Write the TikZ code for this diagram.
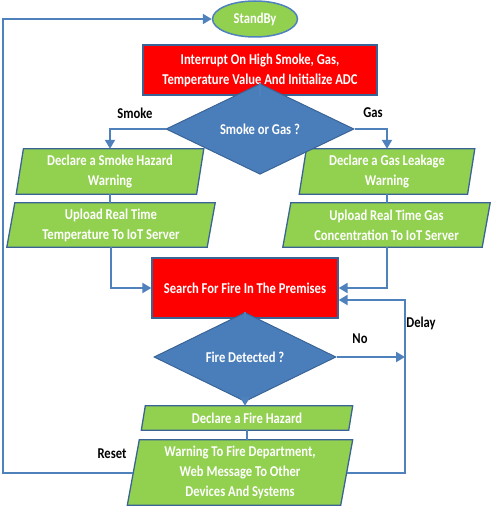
\documentclass[tikz,border=0pt]{standalone}
\usepackage{fontspec}
\setmainfont{Carlito}
\newfontfamily\bxf[FakeStretch=0.84]{Carlito}
\usetikzlibrary{shapes.geometric,arrows.meta,calc,backgrounds}
\definecolor{grn}{HTML}{92D050}
\definecolor{bord}{HTML}{3B6496}
\definecolor{conn}{HTML}{4F81BD}
\definecolor{dia}{HTML}{4A7EBB}
\definecolor{rd}{HTML}{FF0000}
\tikzset{
  txt/.style={font=\bxf\bfseries\fontsize{15}{20}\selectfont, text=white, align=center},
  lbl/.style={font=\bxf\bfseries\fontsize{15}{20}\selectfont, text=black, inner sep=0},
  redbox/.style={txt, draw=bord, line width=1.3pt, fill=rd, inner sep=0},
  diabox/.style={txt, diamond, draw=bord, line width=1pt, fill=dia, inner sep=0},
  parabox/.style={txt, inner sep=0},
  pfill/.style={draw=bord, line width=1.3pt, fill=grn},
  ellbox/.style={txt, ellipse, draw=conn, line width=1.5pt, fill=grn, inner sep=0},
  conline/.style={draw=conn, line width=2pt},
  arr/.style={conline, -{Triangle[length=9pt,width=10pt]}}
}
\newcommand\paraback[2]{%
  \begin{scope}[on background layer]
    \filldraw[pfill] ($(#1.south west)+(-#2,0)$) -- ($(#1.south east)+(-#2,0)$) -- ($(#1.north east)+(#2,0)$) -- ($(#1.north west)+(#2,0)$) -- cycle;
  \end{scope}}
\begin{document}
\begin{tikzpicture}[x=1pt,y=-1pt]
\useasboundingbox (0,0) rectangle (491,513);
% nodes
\node[ellbox, minimum width=85pt, minimum height=36pt] (standby) at (255,19) {StandBy};
\node[redbox, minimum width=234pt, minimum height=50pt] (int) at (260,70) {Interrupt On High Smoke, Gas,\\Temperature Value And Initialize ADC};
\node[diabox, minimum width=188pt, minimum height=52pt] (sg) at (260,129) {Smoke or Gas ?};
\node[lbl] (lsmoke) at (135,113) {Smoke};
\node[lbl] (lgas) at (373,113) {Gas};
\node[parabox, minimum width=180pt, minimum height=45pt] (sm1) at (110,171.5) {Declare a Smoke Hazard\\Warning};
\node[parabox, minimum width=200pt, minimum height=44pt] (sm2) at (111,225) {Upload Real Time\\Temperature To IoT Server};
\node[parabox, minimum width=168pt, minimum height=45pt] (gs1) at (387,171.5) {Declare a Gas Leakage\\Warning};
\node[parabox, minimum width=199pt, minimum height=44pt] (gs2) at (386.5,225) {Upload Real Time Gas\\Concentration To IoT Server};
\node[redbox, minimum width=186pt, minimum height=60pt] (search) at (245,288) {Search For Fire In The Premises};
\node[diabox, minimum width=182pt, minimum height=54pt] (fd) at (245,357) {Fire Detected ?};
\node[lbl] (lno) at (360,339) {No};
\node[lbl] (ldelay) at (421,323) {Delay};
\node[parabox, minimum width=207pt, minimum height=24pt] (fh) at (247,418) {Declare a Fire Hazard};
\node[parabox, minimum width=213pt, minimum height=65pt] (warn) at (240,472.5) {Warning To Fire Department,\\Web Message To Other\\Devices And Systems};
\node[lbl] (lreset) at (112,454) {Reset};
\paraback{sm1}{3.6}
\paraback{sm2}{4}
\paraback{gs1}{3.6}
\paraback{gs2}{4}
\paraback{fh}{2}
\paraback{warn}{6}
% coordinates
\coordinate (lc) at (3,472.5);
\coordinate (lt) at (3,19);
\coordinate (rc) at (405,472.5);
\coordinate (dt) at (405,300);
% connectors
\draw[conline] (int.south) -- (sg.north);
\draw[arr] (sg.west) -| (sm1.north);
\draw[arr] (sg.east) -| (gs1.north);
\draw[conline] (sm1.south) -- (sm1.south |- sm2.north);
\draw[conline] (gs1.south) -- (gs1.south |- gs2.north);
\draw[arr] (sm2.south) |- (search.west);
\draw[arr] (gs2.south) |- (search.east);
\draw[conline] (search.south) -- (fd.north);
\draw[arr] (fd.south) -- (fd.south |- fh.north);
\draw[conline] (fh.south) -- (fh.south |- warn.north);
\draw[arr] (fd.east) -- (fd.east -| rc);
\draw[arr] (warn.east) -- (rc) -- (dt) -- (dt -| search.east);
\draw[arr] (warn.west) -- (lc) -- (lt) -- (standby.west);
\end{tikzpicture}
\end{document}
